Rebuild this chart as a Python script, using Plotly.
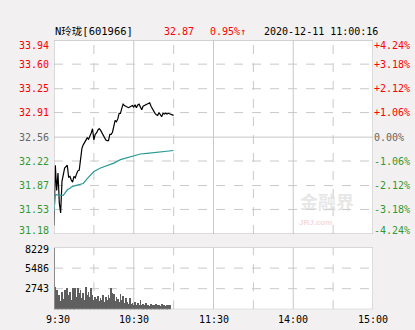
import plotly.graph_objects as go

# ---------------- data ----------------
prev_close = 32.56
price_ticks = [33.94, 33.60, 33.25, 32.91, 32.56, 32.22, 31.87, 31.53, 31.18]
pct_labels = ["+4.24%", "+3.18%", "+2.12%", "+1.06%", "0.00%", "-1.06%", "-2.12%", "-3.18%", "-4.24%"]
vol_ticks = [8229, 5486, 2743]
time_ticks = [0, 60, 120, 180, 240]
time_labels = ["9:30", "10:30", "11:30", "14:00", "15:00"]

price = [31.30, 32.16, 31.80, 32.05, 31.62, 31.48, 31.93, 32.05, 32.12, 32.14,
         32.16, 31.99, 32.00, 31.95, 31.92, 32.00, 31.98, 32.04, 32.08, 32.09,
         32.30, 32.40, 32.45, 32.48, 32.50, 32.55, 32.53, 32.57, 32.62, 32.68,
         32.52, 32.60, 32.62, 32.66, 32.68, 32.66, 32.63, 32.60, 32.56, 32.52,
         32.51, 32.51, 32.60, 32.60, 32.63, 32.70, 32.80, 32.78, 32.82, 32.90,
         32.90, 32.97, 33.03, 33.01, 33.00, 32.98, 32.98, 32.99, 33.00, 33.01,
         32.99, 33.02, 32.98, 33.02, 33.03, 32.98, 32.95, 33.00, 33.01, 33.02,
         33.03, 33.05, 33.05, 33.00, 32.96, 32.94, 32.90, 32.88, 32.87, 32.91,
         32.88, 32.85, 32.90, 32.89, 32.90, 32.89, 32.90, 32.89, 32.88, 32.87,
         32.87]

avg_minutes = [0, 1, 7, 8, 10, 12, 13, 16, 19, 22, 25, 28, 30, 35, 40, 45, 50,
               55, 60, 65, 70, 75, 80, 85, 90]
avg_values = [31.51, 31.74, 31.73, 31.76, 31.81, 31.83, 31.85, 31.87, 31.88,
              31.90, 31.97, 32.03, 32.07, 32.12, 32.15, 32.19, 32.24, 32.27,
              32.29, 32.32, 32.33, 32.34, 32.35, 32.36, 32.37]

volume = [8229, 3100, 2650, 1740, 1960, 1140, 2420, 1420, 2650, 1740,
          2880, 1960, 2420, 1280, 2970, 1960, 2880, 1740, 2970, 2190,
          2650, 1510, 2190, 1280, 3100, 1960, 2420, 1740, 2880, 1960,
          1280, 1740, 1420, 1870, 1140, 1600, 1280, 1960, 1050, 1740,
          1280, 1960, 1510, 2970, 2190, 2060, 1140, 1740, 1420, 1050,
          2060, 1280, 1870, 960, 1600, 1050, 820, 1510, 820, 960,
          690, 1050, 600, 960, 690, 1280, 600, 780, 600, 960,
          600, 690, 500, 820, 600, 690, 500, 780, 600, 690,
          500, 780, 600, 690, 500, 690, 600, 600]

header_name = "N玲珑[601966]"
header_price = "32.87"
header_change = "0.95%↑"
header_time = "2020-12-11 11:00:16"

# ---------------- style ----------------
W, H = 415, 330
BG = "#f2f0f0"
GRID = "#c8c8c8"
RED = "#ff0000"
GREEN = "#339933"
GRAY = "#666666"
MONO = "DejaVu Sans Mono, Liberation Mono, monospace"

x_left, x_right = 54, 373
main_top, main_bot = 40.3, 234
vol_top, vol_bot = 247.5, 309.3


def py(p):
    return 1 - p / H


def px(p):
    return p / W


fig = go.Figure()

fig.add_trace(go.Scatter(x=list(range(len(price))), y=price, mode="lines",
                         line=dict(color="#000000", width=1.2),
                         xaxis="x", yaxis="y", hoverinfo="skip"))
fig.add_trace(go.Scatter(x=avg_minutes, y=avg_values, mode="lines",
                         line=dict(color="#2a9a96", width=1.2),
                         xaxis="x", yaxis="y", hoverinfo="skip"))
fig.add_trace(go.Bar(x=list(range(len(volume))), y=volume, width=0.6,
                     marker=dict(color="#5f5f5f", line=dict(width=0)),
                     xaxis="x2", yaxis="y2", hoverinfo="skip"))

shapes = []
# grid main
for v in price_ticks[1:-1]:
    shapes.append(dict(type="line", xref="x", yref="y", x0=0, x1=240, y0=v, y1=v,
                       line=dict(color=GRID, width=1,
                                 dash="solid" if abs(v - prev_close) < 1e-9 else "dash"),
                       layer="below"))
for t in range(30, 240, 30):
    solid = t in time_ticks
    shapes.append(dict(type="line", xref="x", yref="y", x0=t, x1=t,
                       y0=price_ticks[-1], y1=price_ticks[0],
                       line=dict(color=GRID, width=1, dash="solid" if solid else "dash"),
                       layer="below"))
    shapes.append(dict(type="line", xref="x2", yref="y2", x0=t, x1=t,
                       y0=0, y1=vol_ticks[0],
                       line=dict(color=GRID, width=1, dash="solid" if solid else "dash"),
                       layer="below"))
for v in vol_ticks[1:]:
    shapes.append(dict(type="line", xref="x2", yref="y2", x0=0, x1=240, y0=v, y1=v,
                       line=dict(color=GRID, width=1, dash="dash"), layer="below"))
# frames
shapes.append(dict(type="rect", xref="x", yref="y", x0=0, x1=240,
                   y0=price_ticks[-1], y1=price_ticks[0],
                   line=dict(color="#b8b8b8", width=1)))
shapes.append(dict(type="rect", xref="x2", yref="y2", x0=0, x1=240,
                   y0=0, y1=vol_ticks[0], line=dict(color="#b8b8b8", width=1)))

ann = []
n = len(price_ticks)
for i, (v, pl) in enumerate(zip(price_ticks, pct_labels)):
    if v > prev_close + 1e-9:
        c = RED
    elif v < prev_close - 1e-9:
        c = GREEN
    else:
        c = GRAY
    ys = -5 if i == 0 else (3 if i == n - 1 else 0)
    ann.append(dict(x=px(51), xref="paper", y=v, yref="y", text=f"{v:.2f}",
                    xanchor="right", yanchor="middle", showarrow=False, yshift=ys,
                    font=dict(family=MONO, size=10, color=c)))
    ann.append(dict(x=px(372), xref="paper", y=v, yref="y", text=pl,
                    xanchor="left", yanchor="middle", showarrow=False, yshift=ys,
                    font=dict(family=MONO, size=10, color=c)))
for i, v in enumerate(vol_ticks):
    ann.append(dict(x=px(51), xref="paper", y=v, yref="y2", text=str(v),
                    xanchor="right", yanchor="middle", showarrow=False,
                    yshift=-2 if i == 0 else 0,
                    font=dict(family=MONO, size=10, color="#000000")))
for i, (t, lab) in enumerate(zip(time_ticks, time_labels)):
    ann.append(dict(x=t, xref="x2", y=py(319), yref="paper", text=lab,
                    xanchor="center", yanchor="middle", showarrow=False,
                    xshift=4 if i == 0 else 0,
                    font=dict(family=MONO, size=10, color="#000000")))

hdr_y = py(31)
hdr_font = "DejaVu Sans Mono, Noto Sans CJK SC, monospace"
ann.append(dict(x=px(53), xref="paper", y=hdr_y, yref="paper", text=header_name,
                xanchor="left", yanchor="middle", showarrow=False,
                font=dict(family=hdr_font, size=10.5, color="#000000")))
ann.append(dict(x=px(162), xref="paper", y=hdr_y, yref="paper", text=header_price,
                xanchor="left", yanchor="middle", showarrow=False,
                font=dict(family=hdr_font, size=10, color=RED)))
ann.append(dict(x=px(208), xref="paper", y=hdr_y, yref="paper", text=header_change,
                xanchor="left", yanchor="middle", showarrow=False,
                font=dict(family=hdr_font, size=10, color=RED)))
ann.append(dict(x=px(262), xref="paper", y=hdr_y, yref="paper", text=header_time,
                xanchor="left", yanchor="middle", showarrow=False,
                font=dict(family=hdr_font, size=10, color="#000000")))
# watermark
ann.append(dict(x=px(327), xref="paper", y=py(201), yref="paper", text="<b>金融界</b>",
                xanchor="center", yanchor="middle", showarrow=False,
                font=dict(family="Noto Sans CJK SC", size=18, color="rgba(215,215,215,0.6)")))
ann.append(dict(x=px(315), xref="paper", y=py(222), yref="paper", text="<b>JRJ.com</b>",
                xanchor="center", yanchor="middle", showarrow=False,
                font=dict(family="Liberation Sans", size=8, color="rgba(240,200,205,0.7)")))

fig.update_layout(
    width=W, height=H, margin=dict(l=0, r=0, t=0, b=0),
    paper_bgcolor=BG, plot_bgcolor="#ffffff", showlegend=False,
    xaxis=dict(domain=[px(x_left), px(x_right)], range=[0, 240], showgrid=False,
               zeroline=False, showticklabels=False, fixedrange=True),
    yaxis=dict(domain=[py(main_bot), py(main_top)], range=[price_ticks[-1], price_ticks[0]],
               showgrid=False, zeroline=False, showticklabels=False),
    xaxis2=dict(domain=[px(x_left), px(x_right)], range=[0, 240], showgrid=False,
                zeroline=False, showticklabels=False, anchor="y2"),
    yaxis2=dict(domain=[py(vol_bot), py(vol_top)], range=[0, vol_ticks[0]],
                showgrid=False, zeroline=False, showticklabels=False, anchor="x2"),
    shapes=shapes, annotations=ann, bargap=0,
)

fig.write_html("out.html")
